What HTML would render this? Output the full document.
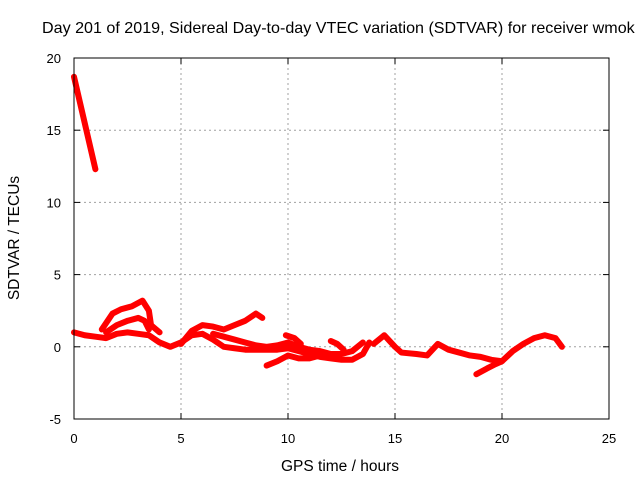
<!DOCTYPE html>
<html><head><meta charset="utf-8"><style>
body{margin:0;background:#fff}
svg text{font-family:"Liberation Sans",sans-serif;font-size:13px;fill:#000}
svg text.big{font-size:15.5px}
svg text.title{font-size:16.1px}
</style></head><body>
<svg id="chart" width="640" height="480" viewBox="0 0 640 480" xmlns="http://www.w3.org/2000/svg">
<text class="title" x="42" y="33">Day 201 of 2019, Sidereal Day-to-day VTEC variation (SDTVAR) for receiver wmok</text>
<g id="grid"></g>
<g id="marks"></g>
<rect x="74" y="58" width="535" height="361" fill="none" stroke="#000" stroke-width="1"/>
<g id="axes"></g>
<text class="big" x="340" y="471" text-anchor="middle">GPS time / hours</text>
<text class="big" transform="translate(19,238) rotate(-90)" text-anchor="middle">SDTVAR / TECUs</text>
</svg>
<script>
const xTicks=[0,5,10,15,20,25];
const yTicks=[-5,0,5,10,15,20];
const trackA=[[0,18.7],[0.5,15.5],[1.0,12.3]];
const trackB=[[0,1],[0.5,0.8],[1,0.7],[1.5,0.6],[2,0.9],[2.5,1.0],[3,0.9],[3.5,0.8],[4,0.3],[4.5,0],[5,0.3],[5.5,0.8],[6,0.9],[6.5,0.5],[7,0],[7.5,-0.1],[8,-0.2],[8.5,-0.2],[9,-0.2],[9.5,-0.2],[10,-0.1],[10.5,-0.3],[11,-0.5],[11.5,-0.7],[12,-0.8],[12.5,-0.9],[13,-0.9],[13.5,-0.5],[13.8,0.3]];
const trackC=[[1.3,1.2],[1.8,2.3],[2.2,2.6],[2.7,2.8],[3.2,3.2],[3.5,2.5],[3.6,1.5],[4,1.0]];
const trackC2=[[1.5,1.0],[2,1.5],[2.5,1.8],[3,2.0],[3.3,1.8],[3.5,1.2]];
const trackD=[[5,0.2],[5.5,1.1],[6,1.5],[6.5,1.4],[7,1.2],[7.5,1.5],[8,1.8],[8.5,2.3],[8.8,2.0]];
const trackE=[[6.5,0.9],[7,0.7],[7.5,0.5],[8,0.3],[8.5,0.1],[9,0],[9.5,0.1],[10,0.3],[10.5,0],[11,-0.2],[11.5,-0.3],[12,-0.5],[12.5,-0.5],[13,-0.3],[13.5,0.3]];
const trackF=[[9,-1.3],[9.5,-1.0],[10,-0.6],[10.5,-0.8],[11,-0.8],[11.5,-0.6],[12,-0.7]];
const trackG=[[9.9,0.8],[10.3,0.6],[10.6,0.2]];
const trackH=[[12,0.4],[12.3,0.2],[12.6,-0.2]];
const trackI=[[14,0.2],[14.5,0.8],[15,0],[15.3,-0.4],[16,-0.5],[16.5,-0.6],[17,0.2],[17.5,-0.2],[18,-0.4],[18.5,-0.6],[19,-0.7],[19.5,-0.9],[20,-1.0],[20.5,-0.3],[21,0.2],[21.5,0.6],[22,0.8],[22.5,0.6],[22.8,0]];
const trackJ=[[18.8,-1.9],[19.3,-1.5],[19.7,-1.2],[20,-1.0]];
const tracks=[trackA,trackB,trackC,trackC2,trackD,trackE,trackF,trackG,trackH,trackI,trackJ];
const NS="http://www.w3.org/2000/svg";
const x0=74,x1=609,y0=419,y1=58;
function sx(v){return x0+(v-0)/(25-0)*(x1-x0);}
function sy(v){return y0-(v+5)/(20+5)*(y0-y1);}
const grid=document.getElementById('grid'),axes=document.getElementById('axes'),marks=document.getElementById('marks');
function mk(t,a,p){const e=document.createElementNS(NS,t);for(const k in a)e.setAttribute(k,a[k]);p.appendChild(e);return e;}
xTicks.forEach(t=>{const x=sx(t);
 if(t>0&&t<25){const g=mk('line',{x1:x,x2:x,y1:y1,y2:y0,stroke:'#a0a0a0','stroke-dasharray':'2,3'},grid);
 
 }
 mk('line',{x1:x,x2:x,y1:y0,y2:y0-6,stroke:'#000'},axes);mk('line',{x1:x,x2:x,y1:y1,y2:y1+6,stroke:'#000'},axes);
 const l=mk('text',{x:x,y:y0+24,'text-anchor':'middle'},axes);l.textContent=t;
 
 });
yTicks.forEach(t=>{const y=sy(t);
 if(t>-5&&t<20){const g=mk('line',{x1:x0,x2:x1,y1:y,y2:y,stroke:'#a0a0a0','stroke-dasharray':'2,3'},grid);
 
 }
 mk('line',{x1:x0,x2:x0+6,y1:y,y2:y,stroke:'#000'},axes);mk('line',{x1:x1,x2:x1-6,y1:y,y2:y,stroke:'#000'},axes);
 const l=mk('text',{x:x0-13,y:y+5,'text-anchor':'end'},axes);l.textContent=t;
 
 });
tracks.forEach(tr=>{const p=mk('polyline',{points:tr.map(d=>sx(d[0])+','+sy(d[1])).join(' '),fill:'none',stroke:'#ff0000','stroke-width':6,'stroke-linejoin':'round','stroke-linecap':'round'},marks);
 
 });
</script>
</body></html>
